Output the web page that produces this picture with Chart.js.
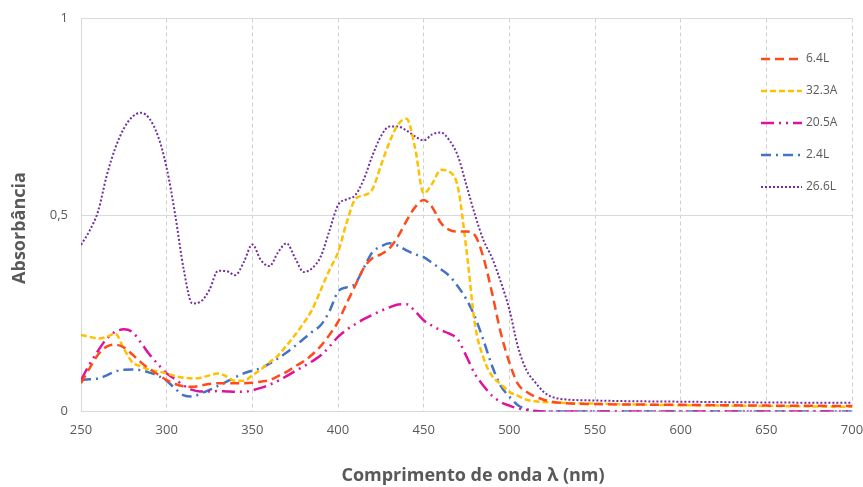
<!DOCTYPE html>
<html><head><meta charset="utf-8">
<script src="https://cdn.jsdelivr.net/npm/chart.js@4/dist/chart.umd.min.js"></script>
<style>html,body{margin:0;padding:0;background:#fff}</style>
</head><body>
<canvas id="c" width="863" height="487"></canvas>
<script>
// Wavelength grid (nm)
const wavelengths = [250,255,260,265,270,275,280,285,290,295,
  300,305,310,315,320,325,330,335,340,345,
  350,355,360,365,370,375,380,385,390,395,
  400,405,410,415,420,425,430,435,440,445,
  450,455,460,465,470,475,480,485,490,495,
  500,505,510,515,520,525,530,
  550,600,650,700];

const seriesNames = ["6.4L","32.3A","20.5A","2.4L","26.6L"];

const abs_64L = [0.072,0.11,0.145,0.165,0.17,0.163,0.145,0.125,0.108,0.094,
  0.08,0.07,0.064,0.063,0.066,0.07,0.072,0.072,0.072,0.072,
  0.073,0.076,0.08,0.09,0.101,0.115,0.128,0.145,0.167,0.195,
  0.228,0.275,0.32,0.365,0.39,0.4,0.415,0.445,0.485,0.52,
  0.538,0.52,0.48,0.462,0.458,0.458,0.448,0.39,0.3,0.2,
  0.125,0.07,0.05,0.038,0.03,0.025,0.022,
  0.019,0.017,0.015,0.014];

const abs_323A = [0.195,0.19,0.186,0.19,0.198,0.16,0.125,0.115,0.106,0.102,
  0.097,0.09,0.086,0.084,0.086,0.092,0.097,0.089,0.078,0.078,
  0.092,0.107,0.125,0.142,0.168,0.195,0.225,0.26,0.31,0.36,
  0.405,0.48,0.54,0.55,0.565,0.625,0.685,0.73,0.745,0.67,
  0.555,0.58,0.615,0.61,0.57,0.41,0.22,0.135,0.09,0.07,
  0.05,0.04,0.03,0.026,0.024,0.023,0.022,
  0.02,0.016,0.014,0.012];

const abs_205A = [0.08,0.12,0.155,0.185,0.203,0.209,0.202,0.175,0.145,0.12,
  0.097,0.082,0.066,0.055,0.051,0.051,0.052,0.051,0.05,0.05,
  0.054,0.06,0.068,0.078,0.09,0.103,0.115,0.128,0.143,0.165,
  0.19,0.208,0.222,0.235,0.246,0.256,0.265,0.272,0.273,0.255,
  0.232,0.218,0.207,0.198,0.183,0.14,0.095,0.065,0.04,0.024,
  0.015,0.008,0.004,0.001,0,0,0,
  0,0,0,0];

const abs_24L = [0.08,0.082,0.084,0.092,0.102,0.106,0.107,0.105,0.099,0.091,
  0.078,0.058,0.041,0.038,0.046,0.055,0.065,0.076,0.087,0.097,
  0.104,0.11,0.122,0.135,0.15,0.167,0.185,0.203,0.22,0.255,
  0.305,0.316,0.325,0.365,0.405,0.42,0.428,0.422,0.41,0.4,
  0.393,0.378,0.362,0.345,0.318,0.285,0.24,0.18,0.115,0.065,
  0.038,0.016,0.006,0.001,0,0,0,
  0,0,0,0];

const abs_266L = [0.424,0.46,0.51,0.6,0.67,0.72,0.75,0.76,0.745,0.70,
  0.62,0.50,0.36,0.275,0.28,0.31,0.358,0.357,0.347,0.38,
  0.425,0.385,0.37,0.405,0.428,0.39,0.355,0.365,0.395,0.46,
  0.525,0.54,0.55,0.59,0.65,0.70,0.725,0.725,0.715,0.70,
  0.69,0.705,0.71,0.69,0.65,0.575,0.50,0.435,0.39,0.33,
  0.26,0.165,0.105,0.075,0.05,0.037,0.032,
  0.028,0.025,0.023,0.022];

const xTicks = [250,300,350,400,450,500,550,600,650,700];
const yTicks = [0,0.5,1];
const yTickLabels = ["0","0,5","1"];

const styles = [
  {color:"#FF4B1C", dash:[9,5], width:2.5},
  {color:"#FFC000", dash:[6,3], width:2.5},
  {color:"#E0119B", dash:[13,5,2,5,2,5], width:2.5},
  {color:"#4472C4", dash:[10,5,2,5], width:2.5},
  {color:"#7030A0", dash:[2,2], width:2}
];
const allValues = [abs_64L, abs_323A, abs_205A, abs_24L, abs_266L];

const datasets = seriesNames.map((name,i)=>({
  label:name,
  data: wavelengths.map((w,j)=>({x:w,y:allValues[i][j]})),
  borderColor: styles[i].color,
  backgroundColor: styles[i].color,
  borderWidth: styles[i].width,
  borderDash: styles[i].dash,
  pointRadius:0,
  fill:false,
  cubicInterpolationMode:'monotone'
}));

const FONT = "'Open Sans', 'DejaVu Sans', sans-serif";
const TXT = "#595959";

const overlay = {
  id:'overlay',
  afterDraw(chart){
    const ctx = chart.ctx;
    ctx.save();
    // legend
    const ys = [59,91,123,155,187];
    chart.data.datasets.forEach((ds,i)=>{
      ctx.save();
      ctx.strokeStyle = ds.borderColor;
      ctx.lineWidth = ds.borderWidth;
      ctx.setLineDash(ds.borderDash);
      ctx.beginPath();
      ctx.moveTo(761, ys[i]);
      ctx.lineTo(802, ys[i]);
      ctx.stroke();
      ctx.restore();
      ctx.fillStyle = TXT;
      ctx.font = "12px " + FONT;
      ctx.textBaseline = 'middle';
      ctx.textAlign = 'left';
      ctx.fillText(ds.label, 806, ys[i]);
    });
    // axis titles
    ctx.fillStyle = TXT;
    ctx.font = "bold 18px " + FONT;
    ctx.textAlign = 'center';
    ctx.textBaseline = 'alphabetic';
    ctx.fillText("Comprimento de onda \u03BB (nm)", 473, 481);
    ctx.save();
    ctx.translate(25, 228);
    ctx.rotate(-Math.PI/2);
    ctx.fillText("Absorb\u00E2ncia", 0, 0);
    ctx.restore();
    ctx.restore();
  }
};

new Chart(document.getElementById('c'), {
  type:'line',
  data:{datasets},
  options:{
    responsive:false,
    animation:false,
    devicePixelRatio:1,
    layout:{padding:{left:0,right:0,top:18.5,bottom:0}},
    plugins:{legend:{display:false}, tooltip:{enabled:false}},
    scales:{
      x:{
        type:'linear', min:250, max:700,
        afterBuildTicks(s){ s.ticks = xTicks.map(v=>({value:v})); },
        afterFit(s){ s.height = 75.5; s.paddingRight = 11; s.paddingLeft = 0; },
        ticks:{color:TXT, font:{family:FONT,size:13}, padding:11, maxRotation:0},
        grid:{drawTicks:false, lineWidth:1,
          color:(c)=> (c.tick && c.tick.value===250) ? 'rgba(0,0,0,0)' : '#D0D0D0'},
        border:{display:true, color:'#D9D9D9', width:1, dash:[4,3]}
      },
      y:{
        type:'linear', min:0, max:1,
        afterBuildTicks(s){ s.ticks = yTicks.map(v=>({value:v})); },
        afterFit(s){ s.width = 81; s.paddingTop = 0; s.paddingBottom = 0; },
        ticks:{color:TXT, font:{family:FONT,size:13}, padding:13,
          callback:(v)=>{ const k = yTicks.indexOf(v); return k>=0 ? yTickLabels[k] : ''; }},
        grid:{drawTicks:false, lineWidth:1,
          color:(c)=> (c.tick && c.tick.value===0) ? 'rgba(0,0,0,0)' : '#D9D9D9'},
        border:{display:true, color:'#D9D9D9', width:1}
      }
    }
  },
  plugins:[overlay]
});
</script>
</body></html>
